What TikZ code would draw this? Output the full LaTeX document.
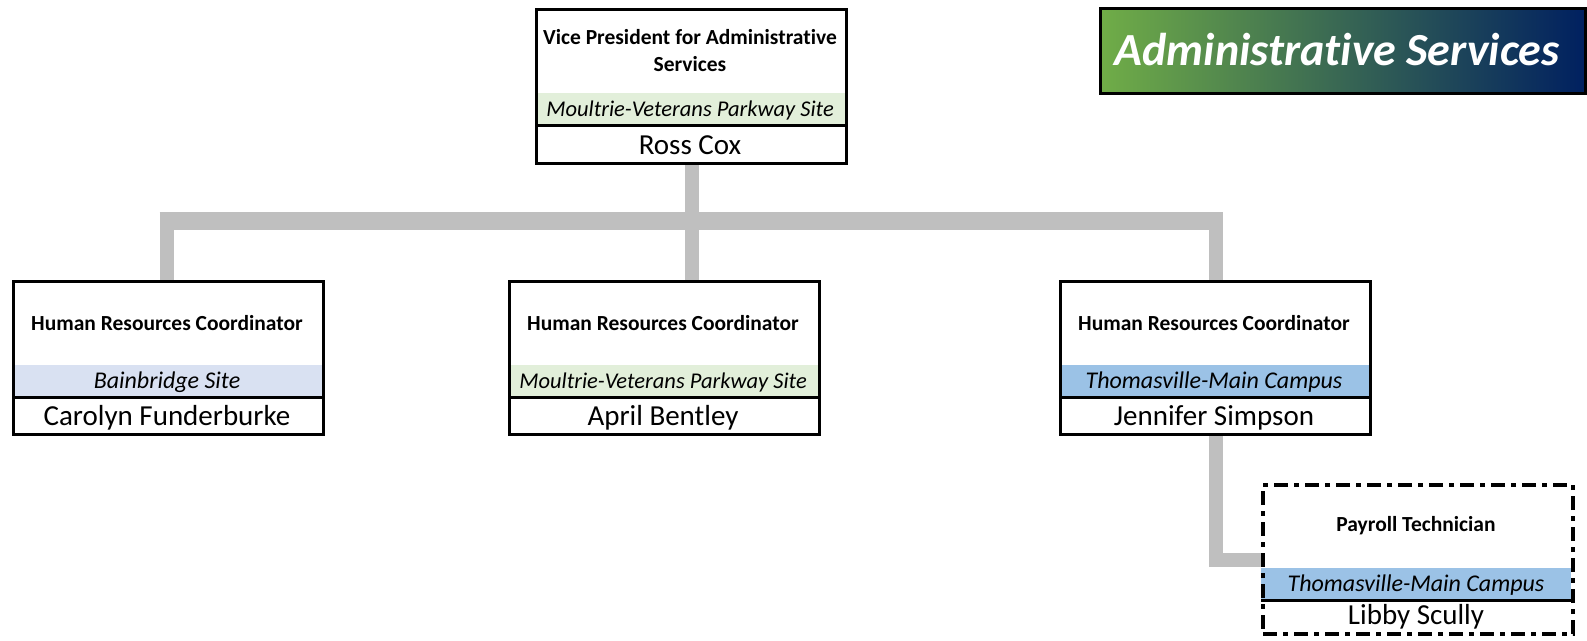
\documentclass[tikz,border=0pt]{standalone}
\usepackage{fontspec}
\setmainfont{Carlito}[Ligatures=NoCommon]
\usetikzlibrary{backgrounds,calc}
\definecolor{bandgreen}{HTML}{E2EFDA}
\definecolor{bandlav}{HTML}{D9E1F2}
\definecolor{bandblue}{HTML}{9BC2E6}
\definecolor{conngray}{HTML}{BFBFBF}
\definecolor{bannergreen}{HTML}{70AD47}
\definecolor{bannernavy}{HTML}{002060}
\tikzset{
 orgframe/.style={draw=black, line width=3pt, inner sep=0pt},
 dashframe/.style={draw=black, line width=4pt, inner sep=0pt, dash pattern=on 14pt off 6pt on 5pt off 6pt},
 sepline/.style={draw=black, line width=3pt},
 titletext/.style={font=\fontsize{21.5}{27}\selectfont\bfseries, align=center, inner sep=0pt},
 sitetext/.style={font=\fontsize{24}{28}\selectfont\itshape, inner sep=0pt, anchor=base},
 nametext/.style={font=\fontsize{29}{33}\selectfont, inner sep=0pt, anchor=base},
 conn/.style={draw=conngray, line width=14pt},
 banner/.style={draw=black, line width=3pt, left color=bannergreen, right color=bannernavy,
   minimum width=485pt, minimum height=85pt, inner sep=0pt},
 bannertext/.style={inner sep=0pt, text=white, font=\fontsize{46}{54}\selectfont\bfseries\itshape},
}
\newcommand{\longsite}{\fontsize{22.5}{27}\selectfont Moultrie-Veterans Parkway Site}
% #1 id, #2 left x, #3 top y, #4 title, #5 site, #6 band colour, #7 person, #8 frame style, #9 height
\newcommand{\orgbox}[9]{%
  \fill[#6] (#2,#3+85) rectangle (#2+310,#3+117);
  \draw[sepline] (#2,#3+117) -- (#2+310,#3+117);
  \node[#8, anchor=north west, minimum width=310pt, minimum height=#9pt] (#1) at (#2,#3) {};
  \node[titletext] (#1-t) at (#2+155,#3+43) {#4};
  \node[sitetext] (#1-s) at (#2+155,#3+108) {#5};
  \node[nametext] (#1-n) at (#2+155,#3+#9-8) {#7};
}
\begin{document}
\begin{tikzpicture}[x=1pt,y=-1pt]
\useasboundingbox (0,0) rectangle (1587,640);
\orgbox{vp}{535}{8}{Vice President for Administrative\\Services}{\longsite}{bandgreen}{Ross Cox}{orgframe}{154}
\orgbox{hr1}{12}{280}{Human Resources Coordinator}{Bainbridge Site}{bandlav}{Carolyn Funderburke}{orgframe}{153}
\orgbox{hr2}{508}{280}{Human Resources Coordinator}{\longsite}{bandgreen}{April Bentley}{orgframe}{153}
\orgbox{hr3}{1059}{280}{Human Resources Coordinator}{Thomasville-Main Campus}{bandblue}{Jennifer Simpson}{orgframe}{153}
\orgbox{pay}{1261}{483}{Payroll Technician}{Thomasville-Main Campus}{bandblue}{Libby Scully}{dashframe}{149}
\node[banner] (banner) at (1342.5,50.5) {};
\node[bannertext] (bannerlabel) at (1337,50) {Administrative Services};
\coordinate (bar) at (690,221);
\begin{pgfonlayer}{background}
\draw[conn] (vp.south) -- (vp.south |- hr2.north);
\draw[conn, line width=18pt] ($(hr1.north |- bar)+(-9,0)$) -- ($(hr3.north |- bar)+(7,0)$);
\draw[conn] ($(hr1.north |- bar)+(-2,0)$) -- ($(hr1.north)+(-2,0)$);
\draw[conn] (hr3.north |- bar) -- (hr3.north);
\draw[conn] (hr3.south) |- (pay.west);
\end{pgfonlayer}
\end{tikzpicture}
\end{document}
